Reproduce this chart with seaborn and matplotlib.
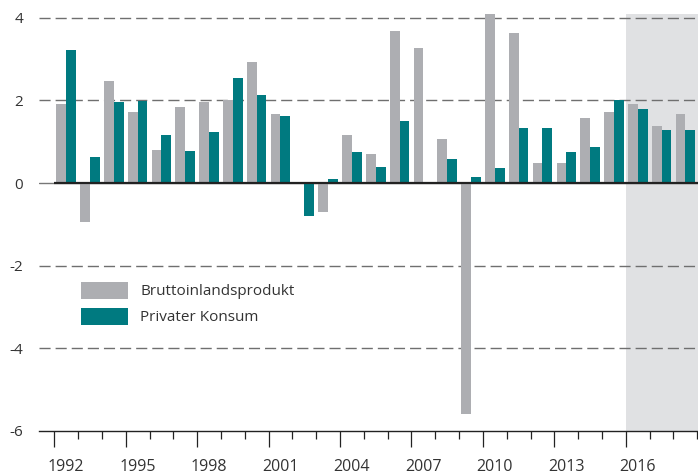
import numpy as np
import pandas as pd
import seaborn as sns
import matplotlib.pyplot as plt
from matplotlib.transforms import ScaledTranslation

years = list(range(1992, 2019))
bip = [1.92, -0.95, 2.46, 1.73, 0.81, 1.85, 1.97, 2.0, 2.94, 1.68,
       0.0, -0.71, 1.17, 0.71, 3.69, 3.26, 1.07, -5.6, 4.08, 3.64,
       0.49, 0.49, 1.58, 1.71, 1.90, 1.39, 1.68]
konsum = [3.23, 0.64, 1.97, 1.98, 1.17, 0.78, 1.24, 2.55, 2.12, 1.61,
          -0.79, 0.10, 0.76, 0.39, 1.49, 0.0, 0.59, 0.15, 0.37, 1.34,
          1.34, 0.74, 0.86, 2.02, 1.80, 1.29, 1.29]
series_names = ['Bruttoinlandsprodukt', 'Privater Konsum']
prognose_start = 2016

gray = '#adaeb2'
teal = '#007a80'
shade = '#e0e1e3'

df = pd.DataFrame({
    'jahr': [str(y) for y in years] * 2,
    'wert': bip + konsum,
    'reihe': [series_names[0]] * len(years) + [series_names[1]] * len(years),
})

sns.set_style('white')
plt.rcParams['font.family'] = ['Open Sans', 'DejaVu Sans']

fig = plt.figure(figsize=(6.98, 4.74), dpi=100)
ax = fig.add_axes([39 / 698, 1 - 431 / 474, 1 - 39 / 698, (431 - 14.4) / 474])

sns.barplot(data=df, x='jahr', y='wert', hue='reihe', palette=[gray, teal],
            width=0.82, saturation=1, linewidth=0, ax=ax, zorder=2)

n = len(years)
xmin, xmax = -1.14, n - 0.47
ax.set_xlim(xmin, xmax)
ax.set_ylim(-6, 4.08)

# Prognosebereich
ax.axvspan(years.index(prognose_start) - 0.5, xmax, color=shade, zorder=0, lw=0)

for y in [-4, -2, 2, 4]:
    ax.axhline(y, color='#6f6f6f', lw=1.0, dashes=(8, 3.6), zorder=1)
ax.axhline(0, color='#777777', lw=1.0, zorder=1)
ax.hlines(0, -0.5, xmax, color='#222222', lw=1.6, zorder=3)

for s in ['top', 'right', 'left']:
    ax.spines[s].set_visible(False)
ax.spines['bottom'].set_color('#222222')
ax.spines['bottom'].set_linewidth(1.0)

ax.set_yticks([-6, -4, -2, 0, 2, 4])
ax.set_yticklabels(['-6', '-4', '-2', '0', '2', '4'])
ax.tick_params(axis='y', length=0, pad=11.5, labelsize=11, labelcolor='#333333')

bounds = np.arange(n + 1) - 0.5
major = bounds[:n:3]
ax.set_xticks(major)
ax.set_xticklabels([str(y) for y in years[::3]])
ax.set_xticks(bounds, minor=True)
ax.tick_params(axis='x', which='major', direction='out', length=11.5, width=0.9,
               color='#222222', pad=9, labelsize=11.5, labelcolor='#333333', bottom=True)
ax.tick_params(axis='x', which='minor', direction='out', length=5.8, width=0.9,
               color='#222222', bottom=True)
# Beschriftung in die Mitte des Jahres schieben
offset = ScaledTranslation(11.9 / 100, 0, fig.dpi_scale_trans)
for lab in ax.get_xticklabels():
    lab.set_transform(lab.get_transform() + offset)
ax.set_xlabel('')
ax.set_ylabel('')

ax.legend(loc='upper left', bbox_to_anchor=(81 / 698, 1 - 281.7 / 474),
          bbox_transform=fig.transFigure, frameon=False, fontsize=11,
          handlelength=3.08, handleheight=1.37, labelspacing=0.54,
          handletextpad=0.79, borderpad=0, borderaxespad=0, title=None,
          labelcolor='#333333')

fig.savefig('out.png', dpi=100)
